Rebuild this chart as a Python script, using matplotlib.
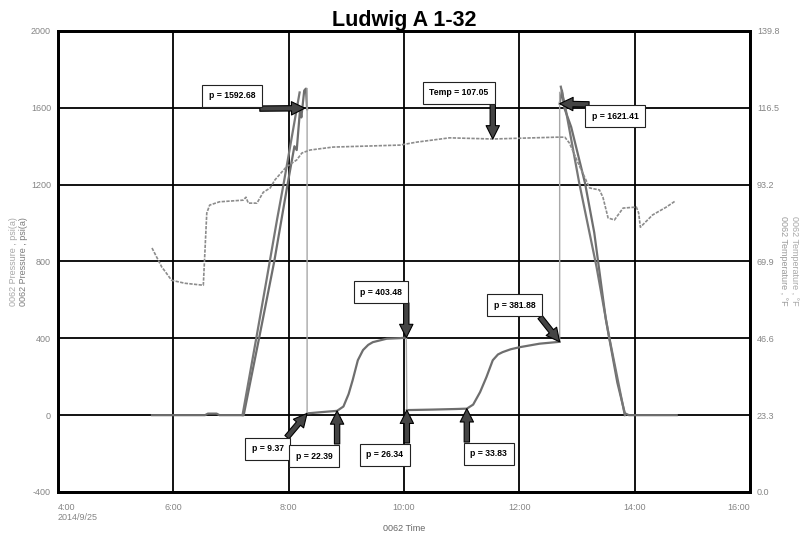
import numpy as np
import matplotlib
matplotlib.use("Agg")
import matplotlib.pyplot as plt

plt.rcParams['font.family'] = ['Liberation Sans', 'DejaVu Sans']
plt.rcParams['axes.unicode_minus'] = False

# time in hours of 2014/9/25
xtick_hours = [4, 6, 8, 10, 12, 14, 16]
xtick_labels = ["4:00\n2014/9/25", "6:00", "8:00", "10:00", "12:00", "14:00", "16:00"]
p_ticks = [-400, 0, 400, 800, 1200, 1600, 2000]
t_ticks = [0.0, 23.3, 46.6, 69.9, 93.2, 116.5, 139.8]

# gauge pressure, psi(a)  (nan = gap where the recorder jumps)
press_time = [5.63, 6.55, 6.60, 6.75, 6.80, 7.22, 7.50, 7.75, 7.98, 8.10, 8.14, 8.20,
              8.22, 8.27, 8.30, 8.32, np.nan,
              8.33, 8.50, 8.70, 8.84, 8.95, 9.04, 9.11, 9.20, 9.29, 9.38, 9.46, 9.70, 9.93,
              10.04, np.nan,
              10.05, 10.50, 10.90, 11.09, 11.20, 11.32, 11.43, 11.54, 11.63, 11.71, 11.85,
              12.01, 12.35, 12.70, np.nan,
              12.70, 12.74, 12.78, 12.90, 13.14, 13.30, 13.50, 13.70, 13.83, 13.90, 14.73]
press = [0, 0, 8, 8, 0, 0, 420, 800, 1200, 1400, 1380, 1600,
         1550, 1690, 1700, 1592.68, np.nan,
         9.37, 14, 19, 22.39, 45, 110, 182, 286, 339, 366, 380, 398, 401,
         403.48, np.nan,
         26.34, 29, 32, 33.83, 55, 120, 198, 286, 316, 328, 343,
         354, 372, 381.88, np.nan,
         1621.41, 1690, 1600, 1500, 1208, 950, 500, 170, 10, 0, 0]

# second gauge on the ramps
press_b_time = [7.20, 7.45, 7.62, 7.80, 7.91, 8.05, 8.19, np.nan,
                12.72, 12.80, 13.04, 13.34, 13.55, 13.83]
press_b = [0, 420, 710, 1020, 1200, 1440, 1680, np.nan,
           1710, 1600, 1208, 771, 420, 0]

# recorder jumps
jump_time = [8.32, 8.32, np.nan, 10.04, 10.05, np.nan, 12.70, 12.70]
jump_press = [1700, 9.37, np.nan, 403.48, 26.34, np.nan, 381.88, 1680]

# temperature, degF
temp_time = [5.63, 5.80, 5.84, 5.97, 6.20, 6.52, 6.58, 6.63, 6.80, 7.21, 7.26, 7.30, 7.45,
             7.56, 7.68, 7.76, 7.96, 8.14, 8.23, 8.37, 8.77, 9.35, 9.93, 10.22, 10.79,
             11.54, 12.65, 12.79, 12.87, 13.05, 13.22, 13.39, 13.45, 13.54, 13.65, 13.80,
             14.03, 14.07, 14.10, 14.31, 14.55, 14.71]
temp = [74.0, 68.2, 67.3, 64.2, 63.3, 62.7, 84.6, 87.0, 88.0, 88.5, 89.4, 87.6, 87.6,
        90.9, 92.2, 94.6, 98.6, 100.7, 102.8, 103.7, 104.6, 104.9, 105.2, 106.1, 107.4,
        107.05, 107.6, 107.6, 105.8, 98.6, 92.2, 91.6, 89.4, 83.1, 82.5, 86.1,
        86.4, 84.6, 80.3, 84.0, 86.4, 88.3]

# labels: (text, point t, point p, arrow tail t, tail p, box t, box p)
p_notes = [("p = 1592.68", 8.28, 1598, 7.50, 1596, 7.02, 1662),
           ("p = 1621.41", 12.70, 1621.41, 13.21, 1618, 13.66, 1557),
           ("p = 403.48", 10.04, 403.48, 10.04, 584, 9.60, 641),
           ("p = 381.88", 12.70, 381.88, 12.36, 511, 11.92, 573),
           ("p = 9.37", 8.32, 9.37, 7.97, -115, 7.64, -176),
           ("p = 22.39", 8.84, 22.39, 8.84, -150, 8.44, -213),
           ("p = 26.34", 10.05, 26.34, 10.05, -145, 9.67, -207),
           ("p = 33.83", 11.09, 33.83, 11.09, -140, 11.47, -202)]
t_note = ("Temp = 107.05", 11.54, 107.05, 11.54, 117.7, 10.95, 121.0)

fig = plt.figure(figsize=(8.09, 5.41), dpi=100)
ax = fig.add_axes([0.0717, 0.0906, 0.8553, 0.8521])
ax2 = ax.twinx()

lab_gray = '#858585'
ax.plot(press_time, press, color='#6e6e6e', lw=1.6, zorder=3)
ax.plot(press_b_time, press_b, color='#777777', lw=1.6, zorder=3)
ax.plot(jump_time, jump_press, color='#a8a8a8', lw=1.0, zorder=3)
ax2.plot(temp_time, temp, color='#8c8c8c', lw=1.2, dashes=(2, 0.8), zorder=3)

ax.set_xlim(4, 16)
ax.set_ylim(-400, 2000)
ax2.set_ylim(0, 139.8)
ax.set_xticks(xtick_hours)
ax.set_xticklabels(xtick_labels)
ax.set_yticks(p_ticks)
ax2.set_yticks(t_ticks)
ax2.set_yticklabels([f"{v:.1f}" for v in t_ticks])
ax.tick_params(length=0, labelsize=6.5, labelcolor=lab_gray, pad=5)
ax.tick_params(axis='x', pad=8)
ax2.tick_params(length=0, labelsize=6.5, labelcolor=lab_gray, pad=5)
tl = ax.get_xticklabels()
tl[0].set_ha('left')
tl[-1].set_ha('right')

ax.grid(True, color='black', lw=1.3)
for s in list(ax.spines.values()) + list(ax2.spines.values()):
    s.set_linewidth(2)
    s.set_color('black')

ax.set_title("Ludwig A 1-32", fontsize=15.5, fontweight='bold', pad=3)
fig.text(0.4994, 0.015, "0062 Time", fontsize=6.5, color='#666666', ha='center', va='bottom')
fig.text(0.017, 0.517, "0062 Pressure , psi(a)", rotation=90, fontsize=6.5, color='#a8a8a8',
         ha='center', va='center')
fig.text(0.0285, 0.517, "0062 Pressure , psi(a)", rotation=90, fontsize=6.5, color='#7a7a7a',
         ha='center', va='center')
fig.text(0.968, 0.517, "0062 Temperature , \u00b0F", rotation=270, fontsize=6.5, color='#9a9a9a',
         ha='center', va='center')
fig.text(0.982, 0.517, "0062 Temperature , \u00b0F", rotation=270, fontsize=6.5, color='#a8a8a8',
         ha='center', va='center')

box = dict(boxstyle='square,pad=0.75', fc='white', ec='#222222', lw=0.8)
arrow = dict(arrowstyle='simple,head_length=0.8,head_width=0.8,tail_width=0.32',
             fc='#444444', ec='black', lw=0.8, shrinkA=0, shrinkB=0, mutation_scale=12)


def note(axis, item):
    txt, xt, yt, xa, ya, xb, yb = item
    axis.annotate("", xy=(xt, yt), xytext=(xa, ya), arrowprops=arrow, zorder=5)
    axis.text(xb, yb, txt, fontsize=6.2, fontweight='bold', ha='center', va='center',
              bbox=box, zorder=6)


for item in p_notes:
    note(ax, item)
note(ax2, t_note)

fig.savefig("out.png", dpi=100)
